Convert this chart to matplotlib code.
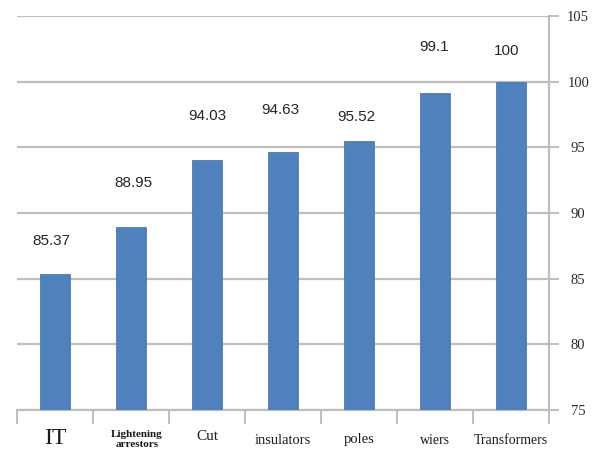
import matplotlib
matplotlib.use("Agg")
import matplotlib.pyplot as plt
import matplotlib.transforms as mtransforms
import numpy as np

categories = ["IT", "Lightening\narrestors", "Cut", "insulators", "poles", "wiers", "Transformers"]
values = [85.37, 88.95, 94.03, 94.63, 95.52, 99.1, 100]
value_labels = ["85.37", "88.95", "94.03", "94.63", "95.52", "99.1", "100"]
y_ticks = [75, 80, 85, 90, 95, 100, 105]

# styling (px offsets of labels, per-label font sizes)
label_dy_px = [33, 44, 44, 42, 24, 46, 31]
label_dx_px = [-4, 2, 0, -3, -3, -1, -4]
cat_sizes = [17, 8, 11, 10.5, 10.5, 10, 10]
cat_dy_px = [-28, -20, -26, -31, -30, -30, -30]

DPI = 100
fig = plt.figure(figsize=(5.93, 4.53), dpi=DPI)
L, R, B, T = 17, 549, 410, 16
W, H = 593, 453
ax = fig.add_axes([L / W, 1 - B / H, (R - L) / W, (B - T) / H])

x = np.arange(len(categories))
ax.bar(x, values, width=0.39, bottom=0, color="#4F81BD", edgecolor="#4A7AB5", linewidth=0.6, zorder=3)
ax.set_ylim(75, 105)
ax.set_xlim(-0.5, len(categories) - 0.5)

# gridlines
ax.yaxis.grid(True, color="#BFBFBF", linewidth=1.6, zorder=0)
ax.set_axisbelow(True)

# spines
for s in ["left", "top"]:
    ax.spines[s].set_visible(False)
ax.spines["right"].set_color("#BFBFBF")
ax.spines["right"].set_linewidth(1.6)
ax.spines["bottom"].set_color("#BFBFBF")
ax.spines["bottom"].set_linewidth(1.6)

# right axis
ax.yaxis.tick_right()
ax.set_yticks(y_ticks)
ax.set_yticklabels([str(v) for v in y_ticks], family="Liberation Serif", fontsize=10.5, color="#2b2b2b")
ax.tick_params(axis="y", which="major", direction="out", length=7, width=1.4, color="#BFBFBF", pad=14)
for lbl in ax.get_yticklabels():
    lbl.set_horizontalalignment("center")

# category boundary ticks on bottom
ax.set_xticks(np.arange(-0.5, len(categories)), minor=False)
ax.set_xticklabels([])
ax.tick_params(axis="x", which="major", direction="out", length=10, width=1.4, color="#BFBFBF")

px2pt = 72.0 / DPI
# category labels
for i, (c, fs, dy) in enumerate(zip(categories, cat_sizes, cat_dy_px)):
    if "\n" in c:
        tr = mtransforms.offset_copy(ax.get_xaxis_transform(), fig=fig, x=6 * px2pt, y=dy * px2pt, units="points")
        va = "top"
        ls = 1.15
    else:
        tr = mtransforms.offset_copy(ax.get_xaxis_transform(), fig=fig, x=0, y=dy * px2pt, units="points")
        va = "center"
        ls = 1.2
    ax.text(i, 0, c, transform=tr, ha="center", va=va, fontsize=fs,
            family="Liberation Serif", color="#1a1a1a", linespacing=ls,
            fontweight="bold" if "\n" in c else "normal", clip_on=False)

# value labels
for i, (v, t, dy, dx) in enumerate(zip(values, value_labels, label_dy_px, label_dx_px)):
    tr = mtransforms.offset_copy(ax.transData, fig=fig, x=dx * px2pt, y=dy * px2pt, units="points")
    ax.text(i, v, t, transform=tr, ha="center", va="center", fontsize=11,
            family=["Liberation Sans", "DejaVu Sans"], color="#262626")

fig.savefig("out.png", dpi=DPI)
